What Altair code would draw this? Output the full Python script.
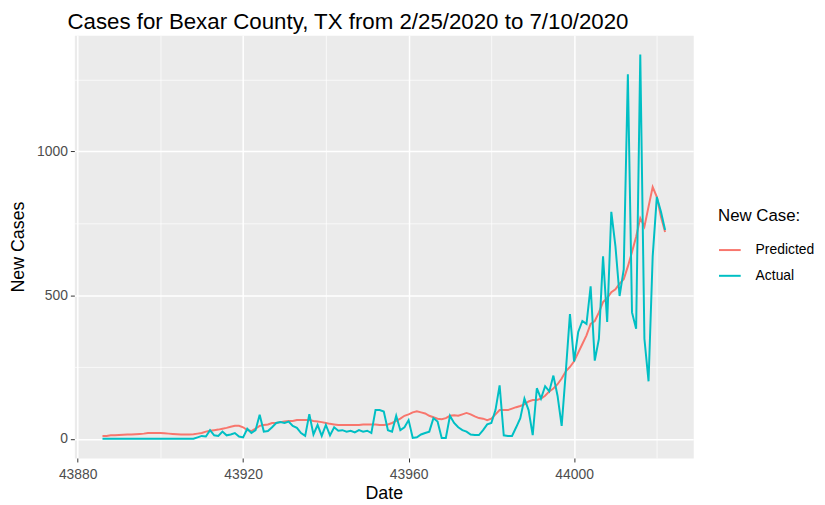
import altair as alt
import pandas as pd

start_day = 43886

actual = [
    0, 0, 0, 0, 0, 0, 0, 0, 0, 0, 0, 0, 0, 0, 0, 0, 0, 0, 0, 0, 0, 0, 0,
    5, 10, 8, 30, 12, 10, 25, 12, 15, 20,
    8, 5, 35, 20, 30, 84, 25, 27, 40, 55,
    58, 55, 60, 45, 38, 20, 10, 86, 15, 48,
    10, 48, 12, 40, 28, 30, 25, 28, 22, 30,
    25, 28, 20, 100, 100, 95, 30, 25, 80, 30,
    40, 65, 3, 5, 15, 20, 25, 72, 60, 3,
    3, 80, 55, 40, 30, 25, 15, 13, 13, 30,
    50, 55, 100, 186, 12, 10, 10, 40, 72, 140,
    100, 13, 176, 140, 183, 165, 220, 150, 45, 234,
    434, 269, 372, 410, 400, 531, 272, 348, 635, 407,
    790, 670, 497, 590, 1269, 440, 383, 1338, 348, 200,
    635, 842, 790, 727,
]

predicted = [
    10, 10, 12, 12, 13, 14, 15, 15, 16, 17,
    18, 20, 20, 20, 20, 19, 18, 17, 16, 15,
    15, 15, 16, 18, 20, 25, 28,
    30, 32, 35, 38, 42, 45, 45, 40,
    30, 27, 35, 45, 48,
    50, 55, 55, 58, 60, 62, 62, 65, 65, 65,
    65, 62, 60, 58, 55, 52, 50, 48, 48, 48,
    48, 48, 48, 50, 50, 50, 50, 48, 48, 50,
    55, 62, 70, 80, 85,
    92, 96, 92, 88, 80, 75, 70, 68, 72, 80,
    82, 80, 85, 90, 85, 78, 72, 70, 65, 70,
    85, 100, 100, 100, 105, 110, 114, 120, 130, 135,
    135, 140, 150, 165, 175, 190, 210, 235, 250, 270,
    300, 330, 360, 400, 410, 440, 476, 490, 510, 520,
    540, 555, 600, 650, 703, 768, 738, 808, 876, 842, 773, 720,
]

series_names = ["Predicted", "Actual"]
series_colors = ["#F8766D", "#00BFC4"]
x_ticks = [43880, 43920, 43960, 44000]
x_minor = [43900, 43940, 43980, 44020]
y_ticks = [0, 500, 1000]
y_minor = [250, 750, 1250]

n = len(actual)
days = list(range(start_day, start_day + n))
df = pd.DataFrame({
    "Date": days + days,
    "New Cases": predicted + actual,
    "series": ["Predicted"] * n + ["Actual"] * n,
})

# ggplot-style 5% expansion of the data range
xlo, xhi = min(days), max(days)
xpad = 0.05 * (xhi - xlo)
vals = predicted + actual
ylo, yhi = min(vals), max(vals)
ypad = 0.05 * (yhi - ylo)
xscale = alt.Scale(domain=[xlo - xpad, xhi + xpad], nice=False, zero=False)
yscale = alt.Scale(domain=[ylo - ypad, yhi + ypad], nice=False, zero=False)

FONT = "Liberation Sans"

minor = alt.Chart(df).mark_line(opacity=0).encode(
    x=alt.X("Date:Q", scale=xscale,
            axis=alt.Axis(values=x_minor, grid=True, gridColor="white", gridWidth=0.7,
                          labels=False, ticks=False, domain=False, title=None, orient="bottom")),
    y=alt.Y("New Cases:Q", scale=yscale,
            axis=alt.Axis(values=y_minor, grid=True, gridColor="white", gridWidth=0.7,
                          labels=False, ticks=False, domain=False, title=None, orient="left")),
)

lines = alt.Chart(df).mark_line(strokeWidth=2).encode(
    x=alt.X("Date:Q", scale=xscale,
            axis=alt.Axis(values=x_ticks, format="d", grid=True, gridColor="white", gridWidth=1.5,
                          domain=False, tickColor="#333333", tickSize=4, tickWidth=1,
                          labelColor="#4D4D4D", labelFontSize=14, labelFont=FONT, labelPadding=6,
                          title="Date", titleFont=FONT, titleFontSize=18, titleFontWeight="normal",
                          titleColor="black", titlePadding=3, orient="bottom")),
    y=alt.Y("New Cases:Q", scale=yscale,
            axis=alt.Axis(values=y_ticks, format="d", grid=True, gridColor="white", gridWidth=1.5,
                          domain=False, tickColor="#333333", tickSize=4, tickWidth=1,
                          labelColor="#4D4D4D", labelFontSize=14, labelFont=FONT, labelPadding=3,
                          title="New Cases", titleFont=FONT, titleFontSize=18, titleFontWeight="normal",
                          titleColor="black", titlePadding=9, orient="left")),
    color=alt.Color("series:N", sort=series_names,
                    scale=alt.Scale(domain=series_names, range=series_colors),
                    legend=alt.Legend(title="New Case:", orient="none", legendX=650, legendY=175,
                                      titleFont=FONT, titleFontSize=17, titleFontWeight="normal",
                                      titleColor="black", titlePadding=13,
                                      labelFont=FONT, labelFontSize=14, labelColor="black",
                                      symbolType="stroke", symbolStrokeWidth=2, symbolSize=480,
                                      rowPadding=7, labelOffset=14)),
)

chart = alt.layer(minor, lines).resolve_axis(x="independent", y="independent").properties(
    width=625,
    height=427,
    background="white",
    autosize=alt.AutoSizeParams(type="none"),
    padding={"left": 67, "top": 25, "right": 125, "bottom": 45},
    title=alt.TitleParams("Cases for Bexar County, TX from 2/25/2020 to 7/10/2020",
                          anchor="start", frame="group", font=FONT, fontSize=22.5,
                          fontWeight="normal", color="black", offset=2, dx=-7),
).configure_view(fill="#EBEBEB", stroke="transparent")

chart.save("out.html", embed_options={"renderer": "svg", "actions": False})
